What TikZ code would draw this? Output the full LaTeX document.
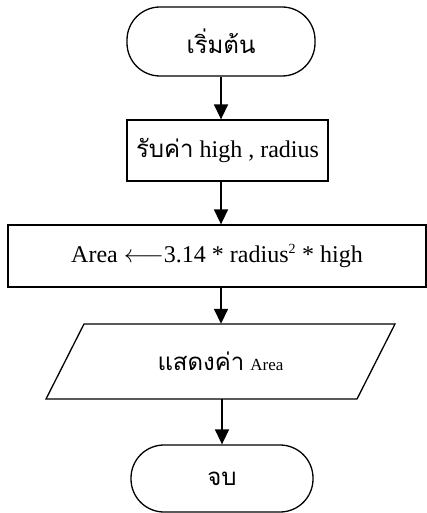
\documentclass[tikz,border=0pt]{standalone}
\usepackage{fontspec}
\setmainfont{Liberation Serif}
\newfontfamily\thai[Script=Thai]{Loma}
\usetikzlibrary{arrows.meta}
\tikzset{
  term/.style={draw, line width=1.3pt, rounded corners=33pt, inner sep=0pt},
  procbox/.style={draw, line width=1.3pt, inner sep=0pt},
  flow/.style={line width=1.6pt, -{Triangle[length=15pt,width=14pt]}},
  lbl/.style={font=\fontsize{24}{28}\selectfont}
}
\begin{document}
\begin{tikzpicture}[x=1pt,y=-1pt]
\useasboundingbox (0,0) rectangle (427,513);
\node[term, lbl, minimum width=188pt, minimum height=69pt] (start) at (221,41.5) {\thai เริ่มต้น};
\node[procbox, lbl, minimum width=201pt, minimum height=61pt] (input) at (227.5,150.5) {{\thai รับค่า} high , radius};
\node[procbox, lbl, minimum width=418pt, minimum height=62pt] (calc) at (217,256) {Area $\longleftarrow$3.14 * radius\textsuperscript{\fontsize{14}{16}\selectfont 2} * high};
\node[lbl, minimum width=311pt, minimum height=75pt, inner sep=0pt] (out) at (220.5,361.5) {{\thai แสดงค่า} {\fontsize{17}{20}\selectfont Area}};
\draw[line width=1.3pt] (84,324) -- (395,324) -- (357,399) -- (46,399) -- cycle;
\node[term, lbl, minimum width=182pt, minimum height=67pt] (stop) at (222,478.5) {\thai จบ};
\draw[flow] (start.south) -- (start.south |- input.north);
\draw[flow] (start.south |- input.south) -- (start.south |- calc.north);
\draw[flow] (start.south |- calc.south) -- (start.south |- out.north);
\draw[flow] (stop.north |- out.south) -- (stop.north);
\end{tikzpicture}
\end{document}
